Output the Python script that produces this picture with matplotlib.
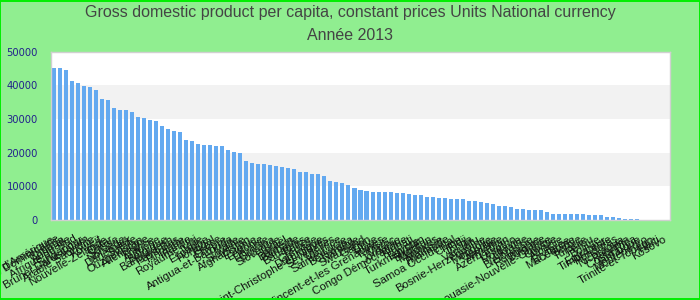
import matplotlib
matplotlib.use("Agg")
import matplotlib.pyplot as plt
from matplotlib.patches import Rectangle
from matplotlib.transforms import ScaledTranslation

title_line1 = "Gross domestic product per capita, constant prices Units National currency"
title_line2 = "Année 2013"

countries = [
    "États-Unis d'Amérique", "République Dominicaine", "Canada", "Australie",
    "Afrique du Sud", "Singapour", "Brunei Darussalam", "Arabie Saoudite",
    "Koweït", "Nouvelle-Zélande", "Qatar", "Suisse", "Norvège", "Danemark",
    "Suède", "Ouzbékistan", "Allemagne", "France", "Autriche", "Belgique",
    "Bangladesh", "Pays-Bas", "Finlande", "Irlande", "Royaume-Uni", "Italie",
    "Espagne", "Portugal", "Grèce", "Chypre", "Antigua-et-Barbuda", "Malte",
    "Slovénie", "Afghanistan", "Estonie", "Lettonie", "Lituanie", "Guyana",
    "Slovaquie", "Israël", "Bahreïn", "Barbade", "Bahamas", "Belize",
    "Grenade", "Dominique", "Saint-Christophe-et-Niévès", "Seychelles",
    "Maurice", "Sainte-Lucie", "Botswana", "Namibie", "Swaziland", "Gabon",
    "Libye", "Saint-Vincent-et-les Grenadines", "Tunisie", "Maroc", "Jordanie",
    "Congo Démocratique", "Kiribati", "Égypte", "Turkménistan", "Bhoutan",
    "Maldives", "Malaisie", "Thaïlande", "Samoa Occidental", "Chine", "Fidji",
    "Tonga", "Vanuatu", "Bosnie-Herzégovine", "Mongolie", "Géorgie", "Arménie",
    "Azerbaïdjan", "Lesotho", "Moldavie", "Ukraine", "Biélorussie", "Roumanie",
    "Bulgarie", "Papouasie-Nouvelle-Guinée", "Croatie", "Albanie", "Érythrée",
    "Macédoine", "Serbie", "Turquie", "Pérou", "Bolivie", "Équateur",
    "Timor-Leste", "Honduras", "Nicaragua", "Panama", "Costa Rica", "Jamaïque",
    "Monténégro", "Trinité-et-Tobago", "Haïti", "Kosovo",
]

gdp_per_capita = [
    45100, 45100, 44550, 41290, 40690, 39800, 39500, 38610, 35940, 35640,
    33270, 32670, 32670, 32080, 30590, 30300, 29700, 29400, 27920, 27030,
    26440, 26140, 23760, 23470, 22570, 22280, 22280, 21980, 21980, 20790,
    20200, 19900, 17520, 16930, 16630, 16630, 16340, 16040, 15740, 15450,
    15150, 14260, 14260, 13660, 13660, 13070, 11580, 11290, 10990, 10400,
    9500, 8910, 8610, 8320, 8320, 8320, 8320, 8020, 8020, 7720,
    7430, 7430, 6830, 6830, 6530, 6530, 6240, 6240, 6240, 5640,
    5640, 5350, 5050, 4750, 4160, 4160, 3860, 3270, 3270, 2970,
    2970, 2970, 2380, 1780, 1780, 1780, 1780, 1780, 1780, 1490,
    1490, 1490, 890, 890, 590, 300, 300, 300, 0, 0,
    0, 0, 0,
]

y_ticks = [0, 10000, 20000, 30000, 40000, 50000]

fig = plt.figure(figsize=(7, 3), dpi=100, facecolor="#90ee90")
fig.patches.append(Rectangle((0.0007, 0.0017), 0.9986, 0.9966, transform=fig.transFigure,
                             fill=False, edgecolor="#00ee00", linewidth=1.4))

ax = fig.add_axes([51 / 700, 1 - 220 / 300, 619 / 700, (220 - 51.7) / 300])
ax.set_facecolor("white")
for lo, hi in [(10000, 20000), (30000, 40000)]:
    ax.axhspan(lo, hi, color="#f2f2f2", zorder=0, lw=0)

x = list(range(len(countries)))
ax.bar(x, gdp_per_capita, width=0.67, color="#63a9f0", zorder=2)

ax.set_xlim(-0.5, len(countries) - 0.5)
ax.set_ylim(0, 50000)
ax.set_yticks(y_ticks)
ax.set_yticklabels([str(v) for v in y_ticks], fontsize=7.2, color="#22228c",
                   family="DejaVu Sans")
ax.tick_params(axis="y", length=0, pad=9.5)
ax.set_xticks(x)
ax.set_xticklabels(countries, rotation=30, ha="right", rotation_mode="anchor",
                   fontsize=8.2, family="Liberation Sans", color="#111111")
ax.tick_params(axis="x", length=0, pad=10)
shift = ScaledTranslation(-4 / 100, 0, fig.dpi_scale_trans)
for lbl in ax.get_xticklabels():
    lbl.set_transform(lbl.get_transform() + shift)
for s in ax.spines.values():
    s.set_color("#d0d0d0")
    s.set_linewidth(1.0)

fig.text(0.5, 1 - 13 / 300, title_line1, ha="center", va="center",
         fontsize=11.5, color="#444444", family="Liberation Sans")
fig.text(0.5, 1 - 36 / 300, title_line2, ha="center", va="center",
         fontsize=11.5, color="#444444", family="Liberation Sans")

fig.savefig("out.png", dpi=100, facecolor=fig.get_facecolor())
